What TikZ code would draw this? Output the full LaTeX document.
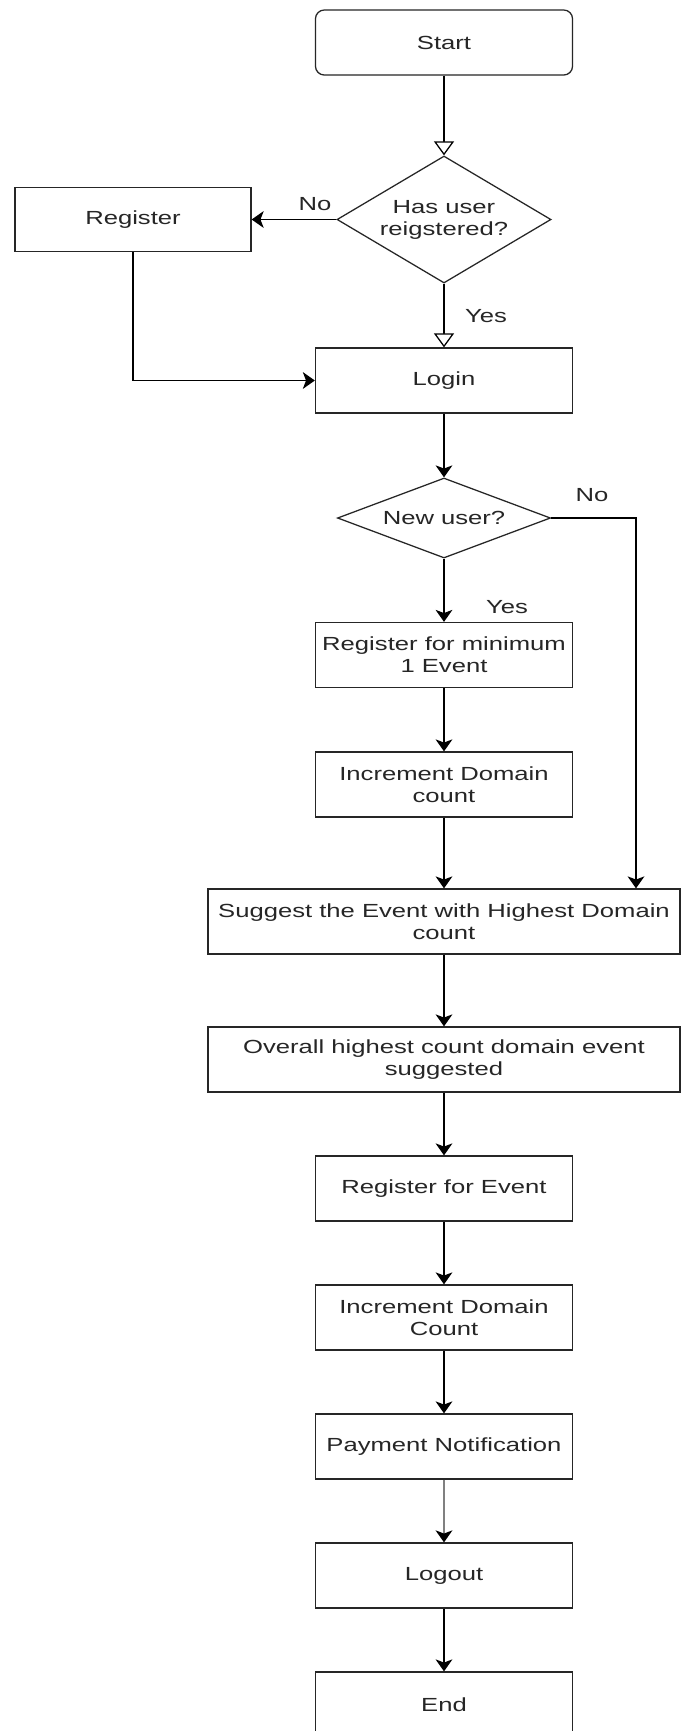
\documentclass[tikz,border=0pt]{standalone}
\usepackage{fontspec}
\newfontfamily\dfont[FakeStretch=1.35]{Liberation Sans}
\usetikzlibrary{arrows.meta,shapes.geometric}
\begin{document}
\begin{tikzpicture}[x=0.025cm,y=-0.025cm,
  every node/.style={font=\dfont\fontsize{13.5}{15.6}\selectfont, text=black!85},
  box/.style={draw=black!85, line width=0.9pt, fill=white, inner sep=0pt, align=center,
              minimum width=6.425cm, minimum height=1.625cm},
  widebox/.style={box, minimum width=11.8cm},
  startbox/.style={box, rounded corners=0.22cm},
  decision/.style={draw=black!85, line width=0.9pt, diamond, inner sep=0pt, fill=white},
  lbl/.style={inner sep=0pt},
  arr/.style={draw=black, line width=0.9pt, -{Stealth[length=0.3cm,width=0.42cm,inset=0.08cm]}},
  oarr/.style={draw=black, line width=0.9pt, -{Triangle[open,fill=white,length=0.35cm,width=0.5cm]}},
  garr/.style={draw=black!50, line width=1.2pt, -{Stealth[color=black,length=0.3cm,width=0.42cm,inset=0.08cm]}},
]
\clip (0,0) rectangle (683,1731);
\fill[white] (0,0) rectangle (683,1731);

\node[startbox] (start) at (444,42.5) {Start};
\node[decision, minimum width=5.35cm, minimum height=3.175cm] (d1) at (444,219.5) {};
\node[lbl, align=center] (d1t) at (d1) {Has user\\reigstered?};
\node[box, minimum width=5.9cm, minimum height=1.6cm] (reg) at (133,219.5) {Register};
\node[box] (login) at (444,380.5) {Login};
\node[decision, minimum width=5.325cm, minimum height=2.0cm] (d2) at (444,518) {};
\node[lbl] (d2t) at (d2) {New user?};
\node[box] (rmin) at (444,655) {Register for minimum\\1 Event};
\node[box] (inc1) at (444,784.5) {Increment Domain\\count};
\node[widebox] (sugg) at (444,921.5) {Suggest the Event with Highest Domain\\count};
\node[widebox] (over) at (444,1059.5) {Overall highest count domain event\\suggested};
\node[box] (regev) at (444,1188.5) {Register for Event};
\node[box] (inc2) at (444,1317.5) {Increment Domain\\Count};
\node[box] (pay) at (444,1446.5) {Payment Notification};
\node[box] (logout) at (444,1575.5) {Logout};
\node[box] (end) at (444,1704.5) {End};

\node[lbl] (no1) at (315,204) {No};
\node[lbl] (yes1) at (486,316) {Yes};
\node[lbl] (no2) at (592,495) {No};
\node[lbl] (yes2) at (507,607) {Yes};

\coordinate (nocorner) at (636,518);

\draw[oarr] (start) -- (d1);
\draw[arr] (d1.west) -- (reg.east);
\draw[oarr] (d1) -- (login);
\draw[arr] (reg.south) |- (login.west);
\draw[arr] (login) -- (d2);
\draw[arr] (d2) -- (rmin);
\draw[arr] (d2.east) -- (nocorner) -- (nocorner |- sugg.north);
\draw[arr] (rmin) -- (inc1);
\draw[arr] (inc1) -- (sugg);
\draw[arr] (sugg) -- (over);
\draw[arr] (over) -- (regev);
\draw[arr] (regev) -- (inc2);
\draw[arr] (inc2) -- (pay);
\draw[garr] (pay) -- (logout);
\draw[arr] (logout) -- (end);
\end{tikzpicture}
\end{document}
